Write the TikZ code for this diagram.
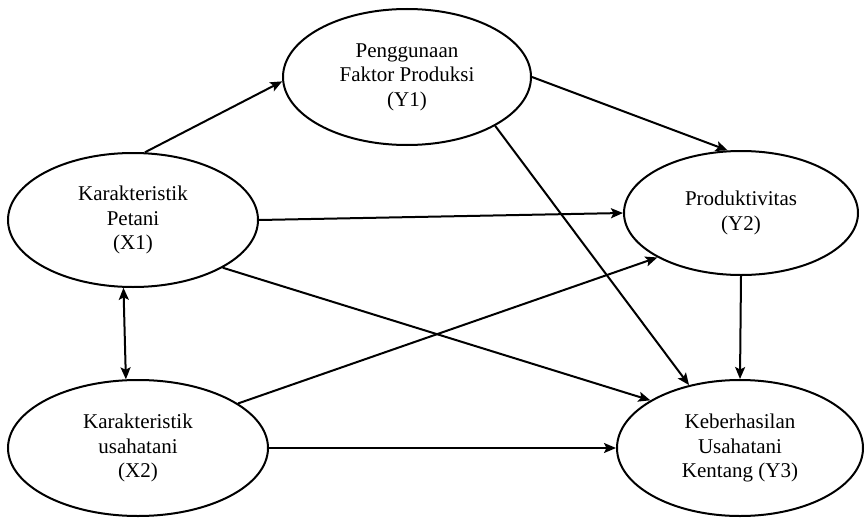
\documentclass[tikz,border=0pt]{standalone}
\usepackage{fontspec}
\setmainfont{Liberation Serif}
\usetikzlibrary{shapes.geometric,arrows.meta}
\begin{document}
\begin{tikzpicture}[x=1pt,y=-1pt,
  var/.style={ellipse,draw,line width=2pt,inner sep=0pt,align=center,
    font=\fontsize{21}{24.5}\selectfont},
  tip/.style={Stealth[length=12pt,width=10pt,inset=2.5pt]},
  link/.style={line width=2pt,-{Stealth[length=12pt,width=10pt,inset=2.5pt]}},
  both/.style={line width=2pt,{Stealth[length=12pt,width=10pt,inset=2.5pt]}-{Stealth[length=12pt,width=10pt,inset=2.5pt]}}]
\useasboundingbox (0,0) rectangle (865,519);

% latent variables
\node[var,minimum width=248,minimum height=136] (Y1) at (407,77) {Penggunaan\\Faktor Produksi\\(Y1)};
\node[var,minimum width=250,minimum height=134] (X1) at (133,220) {Karakteristik\\Petani\\(X1)};
\node[var,minimum width=234,minimum height=124] (Y2) at (741,213) {Produktivitas\\(Y2)};
\node[var,minimum width=260,minimum height=136] (X2) at (138,448) {Karakteristik\\usahatani\\(X2)};
\node[var,minimum width=246,minimum height=136] (Y3) at (740,448) {Keberhasilan\\Usahatani\\Kentang (Y3)};

% paths
\draw[link] (X1.80) -- (Y1.182);
\draw[link] (X1.east) -- (Y2.west);
\draw[link] (X1.-28) -- (Y3.152);
\draw[both] (X1.262) -- (X2.100);
\draw[link] (X2.24) -- (Y2.208);
\draw[link] (X2.east) -- (Y3.west);
\draw[link] (Y1.east) -- (Y2.102);
\draw[link] (Y1.-29) -- (Y3.129);
\draw[link] (Y2.south) -- (Y3.north);
\end{tikzpicture}
\end{document}
